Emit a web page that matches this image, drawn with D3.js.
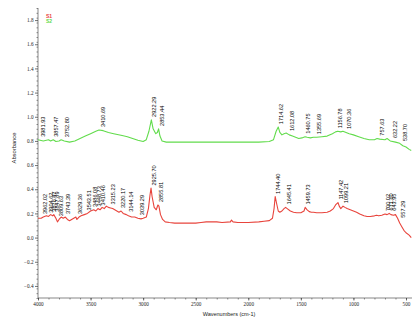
<!DOCTYPE html>
<html>
<head>
<meta charset="utf-8">
<script src="https://cdn.jsdelivr.net/npm/d3@7"></script>
<style>
  html, body { margin: 0; padding: 0; background: #fff; }
  svg { display: block; font-family: "Liberation Sans", Arial, sans-serif; }
</style>
</head>
<body>
<svg id="chart" width="412" height="320"></svg>
<script>
// FTIR spectra: [wavenumber cm-1, absorbance]
const seriesNames = ["S1", "S2"];
const seriesColors = ["#e8443c", "#62dc4c"];

const specS2 = [
  [4000,0.81],[3950,0.80],[3900,0.81],[3880,0.80],[3855,0.81],[3830,0.795],[3800,0.80],[3780,0.81],
  [3750,0.80],[3700,0.79],[3650,0.80],[3600,0.82],[3550,0.84],[3500,0.86],[3450,0.88],[3420,0.89],
  [3380,0.885],[3330,0.87],[3280,0.86],[3200,0.845],[3150,0.835],[3100,0.82],[3050,0.805],[3000,0.795],
  [2970,0.81],[2945,0.88],[2922,0.975],[2905,0.90],[2880,0.86],[2865,0.87],[2853,0.90],[2840,0.84],
  [2820,0.80],[2780,0.79],[2700,0.79],[2600,0.79],[2500,0.79],[2400,0.79],[2300,0.79],[2200,0.79],
  [2100,0.79],[2000,0.79],[1900,0.79],[1800,0.795],[1760,0.81],[1735,0.88],[1715,0.915],[1700,0.87],
  [1680,0.85],[1660,0.86],[1640,0.865],[1610,0.85],[1580,0.84],[1550,0.83],[1520,0.82],[1490,0.825],
  [1460,0.835],[1440,0.83],[1410,0.825],[1380,0.83],[1350,0.83],[1300,0.835],[1250,0.84],[1200,0.86],
  [1170,0.875],[1150,0.88],[1120,0.875],[1100,0.88],[1070,0.87],[1040,0.86],[1000,0.85],[950,0.835],
  [900,0.82],[850,0.81],[800,0.81],[775,0.82],[750,0.815],[700,0.81],[680,0.82],[650,0.80],
  [600,0.79],[560,0.78],[530,0.76],[500,0.75],[470,0.73],[450,0.72]
];

const specS1 = [
  [4000,0.16],[3970,0.16],[3950,0.17],[3920,0.18],[3900,0.175],[3880,0.19],[3860,0.18],[3850,0.19],
  [3830,0.16],[3815,0.13],[3800,0.15],[3780,0.17],[3760,0.16],[3740,0.17],[3720,0.15],[3700,0.14],
  [3680,0.15],[3660,0.16],[3640,0.17],[3630,0.15],[3610,0.17],[3590,0.18],[3560,0.19],[3530,0.20],
  [3500,0.22],[3470,0.23],[3450,0.22],[3430,0.24],[3410,0.23],[3390,0.25],[3370,0.24],[3350,0.26],
  [3330,0.25],[3310,0.245],[3290,0.24],[3270,0.23],[3250,0.22],[3230,0.21],[3210,0.22],[3190,0.20],
  [3160,0.19],[3140,0.18],[3110,0.17],[3080,0.17],[3050,0.16],[3020,0.155],[3000,0.16],[2970,0.17],
  [2950,0.24],[2935,0.35],[2925,0.41],[2915,0.34],[2895,0.25],[2875,0.23],[2860,0.27],[2850,0.26],
  [2835,0.19],[2815,0.15],[2790,0.13],[2750,0.125],[2700,0.12],[2600,0.12],[2500,0.12],[2450,0.125],
  [2400,0.13],[2350,0.13],[2300,0.13],[2250,0.125],[2170,0.13],[2160,0.145],[2145,0.13],[2100,0.125],
  [2000,0.125],[1900,0.13],[1850,0.135],[1800,0.14],[1770,0.16],[1755,0.24],[1744,0.34],[1730,0.28],
  [1715,0.22],[1700,0.21],[1680,0.22],[1660,0.24],[1645,0.25],[1630,0.24],[1600,0.22],[1570,0.21],
  [1540,0.205],[1500,0.205],[1470,0.22],[1459,0.25],[1440,0.23],[1420,0.215],[1400,0.21],[1380,0.21],
  [1350,0.205],[1300,0.205],[1250,0.21],[1220,0.22],[1190,0.24],[1170,0.27],[1147,0.29],[1135,0.26],
  [1120,0.24],[1099,0.26],[1080,0.25],[1060,0.24],[1030,0.23],[1000,0.22],[970,0.21],[940,0.195],
  [900,0.18],[870,0.175],[840,0.175],[800,0.18],[780,0.185],[760,0.18],[730,0.185],[700,0.195],
  [680,0.19],[660,0.20],[643,0.19],[620,0.185],[600,0.19],[580,0.16],[560,0.12],[540,0.09],
  [520,0.06],[500,0.04],[470,0.02],[450,0.0]
];

// Peak annotations (wavenumber text)
const peaksS2 = ["3981.93","3857.47","3752.80","3410.69","2922.29","2853.44","1714.62","1612.08",
  "1460.75","1355.69","1156.78","1070.36","757.63","632.22","538.70"];
const peaksS1 = ["3962.02","3904.62","3876.47","3847.89","3809.63","3743.39","3629.36","3543.51",
  "3486.08","3448.73","3410.46","3315.23","3220.17","3144.14","3039.29","2925.70","2855.81",
  "1744.40","1645.41","1459.73","1147.42","1099.21","700.02","671.60","643.95","557.29"];

const xTicks = [4000,3500,3000,2500,2000,1500,1000,500];
const yTicks = [-0.4,-0.2,0.0,0.2,0.4,0.6,0.8,1.0,1.2,1.4,1.6,1.8];

const svg = d3.select("#chart");
const x = d3.scaleLinear().domain([4000, 500]).range([38, 406]);
const y = d3.scaleLinear().domain([-0.5, 1.9]).range([298, 8]);

// minor ticks
const g = svg.append("g");
const yMinor = d3.range(-0.5, 1.9001, 0.04);
g.append("g").attr("transform", "translate(38,0)")
  .call(d3.axisLeft(y).tickValues(yMinor).tickSize(1.5).tickFormat(""))
  .call(a => a.select(".domain").remove())
  .selectAll("line").attr("stroke", "#444").attr("stroke-width", 0.6);
const xMinor = d3.range(4000, 449, -100);
g.append("g").attr("transform", "translate(0,298)")
  .call(d3.axisBottom(x).tickValues(xMinor).tickSize(1.5).tickFormat(""))
  .call(a => a.select(".domain").remove())
  .selectAll("line").attr("stroke", "#444").attr("stroke-width", 0.6);

// main axes
const yAxis = svg.append("g").attr("transform", "translate(38,0)")
  .call(d3.axisLeft(y).tickValues(yTicks).tickSize(3).tickPadding(1.5)
    .tickFormat(d3.format(".1f")));
const xAxis = svg.append("g").attr("transform", "translate(0,298)")
  .call(d3.axisBottom(x).tickValues(xTicks).tickSize(2.5).tickPadding(2)
    .tickFormat(d3.format("d")));
[yAxis, xAxis].forEach(a => {
  a.select(".domain").attr("stroke", "#555").attr("stroke-width", 0.7);
  a.selectAll(".tick line").attr("stroke", "#333").attr("stroke-width", 0.7);
  a.selectAll("text").attr("font-size", 5.2).attr("fill", "#222")
    .attr("font-family", "'Liberation Serif', serif");
});
xAxis.select(".domain").attr("d", "M38,0H412");
yAxis.select(".domain").attr("d", "M0,8V298");

// axis titles
svg.append("text").attr("x", 229).attr("y", 316).attr("text-anchor", "middle")
  .attr("font-size", 5.5).attr("fill", "#222").text("Wavenumbers (cm-1)");
svg.append("text").attr("transform", "translate(16,148) rotate(-90)")
  .attr("text-anchor", "middle").attr("font-size", 5.8).attr("fill", "#222").text("Absorbance");

// spectra
const line = d3.line().x(d => x(d[0])).y(d => y(d[1]));
const spectra = [specS1, specS2];
spectra.forEach((s, i) => {
  svg.append("path").datum(s).attr("d", line)
    .attr("fill", "none").attr("stroke", seriesColors[i]).attr("stroke-width", 1.1)
    .attr("stroke-linejoin", "round");
});

// absorbance of a spectrum at a wavenumber (for placing annotations)
function valueAt(spec, wn) {
  const asc = spec.slice().sort((a, b) => a[0] - b[0]);
  const i = d3.bisector(d => d[0]).left(asc, wn);
  if (i <= 0) return asc[0][1];
  if (i >= asc.length) return asc[asc.length - 1][1];
  const a = asc[i - 1], b = asc[i];
  const t = (wn - a[0]) / (b[0] - a[0]);
  return a[1] + t * (b[1] - a[1]);
}
function localMax(spec, wn) {
  let m = -Infinity;
  for (let w = wn - 12; w <= wn + 12; w += 3) m = Math.max(m, valueAt(spec, w));
  return m;
}

[[specS1, peaksS1], [specS2, peaksS2]].forEach(([spec, peaks]) => {
  peaks.forEach(p => {
    const wn = +p;
    const px = x(wn) + 5;
    const py = y(localMax(spec, wn)) - 3;
    svg.append("text")
      .attr("transform", `translate(${px},${py}) rotate(-90)`)
      .attr("font-size", 5.6).attr("fill", "#000").text(p);
  });
});

// legend
seriesNames.forEach((n, i) => {
  svg.append("text").attr("x", 46).attr("y", 18 + i * 5)
    .attr("font-size", 5).attr("font-weight", "bold")
    .attr("fill", seriesColors[i]).text(n);
});
</script>
</body>
</html>
